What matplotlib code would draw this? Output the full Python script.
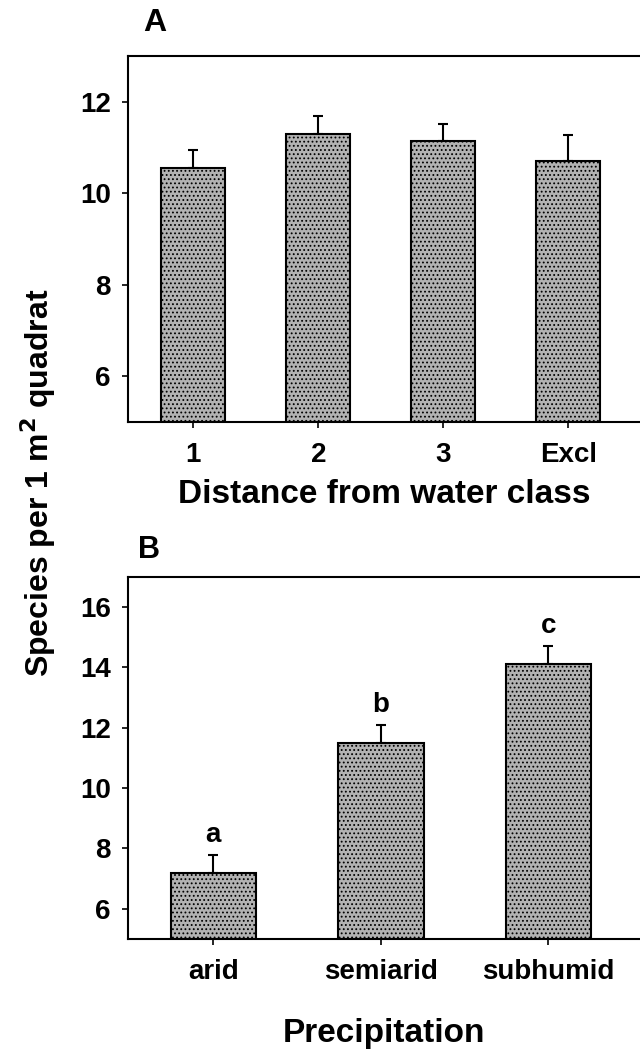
import numpy as np
import matplotlib
matplotlib.use('Agg')
import matplotlib.pyplot as plt

# panel A: distance from water
dist_labels = ['1', '2', '3', 'Excl']
dist_mean = [10.56, 11.30, 11.14, 10.70]
dist_se = [0.38, 0.39, 0.37, 0.58]

# panel B: precipitation zone
precip_labels = ['arid', 'semiarid', 'subhumid']
precip_mean = [7.18, 11.50, 14.12]
precip_se = [0.60, 0.59, 0.59]
precip_groups = ['a', 'b', 'c']

plt.rcParams['font.family'] = ['Liberation Sans', 'DejaVu Sans']
plt.rcParams['font.weight'] = 'bold'
plt.rcParams['hatch.color'] = '#8a8a8a'
plt.rcParams['hatch.linewidth'] = 0.8

bar_color = '#b2b2b2'
lw = 1.5

fig = plt.figure(figsize=(6.4, 10.52), dpi=100)
axA = fig.add_axes([0.2, 0.5989, 0.8, 0.3479])
axB = fig.add_axes([0.2, 0.1074, 0.8, 0.3444])


def draw_panel(ax, labels, mean, se, width):
    x = np.arange(len(labels))
    ax.bar(x, mean, width, color=bar_color, edgecolor='black', linewidth=lw,
           hatch='....', zorder=2)
    ax.errorbar(x, mean, yerr=[np.zeros(len(se)), se], fmt='none', ecolor='black',
                elinewidth=lw, capsize=3.8, capthick=lw, zorder=1)
    ax.set_xticks(x)
    ax.set_xticklabels(labels)
    ax.spines['right'].set_visible(False)
    for s in ['left', 'top', 'bottom']:
        ax.spines[s].set_linewidth(lw)
    ax.tick_params(axis='both', direction='out', length=4.5, width=1.2, labelsize=20)
    ax.tick_params(axis='x', pad=10)
    ax.tick_params(axis='y', pad=8)
    for t in ax.get_xticklabels() + ax.get_yticklabels():
        t.set_fontweight('bold')
    return x


xA = draw_panel(axA, dist_labels, dist_mean, dist_se, 0.51)
axA.set_xlim(-0.522, 3.574)
axA.set_ylim(5, 13)
axA.set_yticks([6, 8, 10, 12])
axA.set_xlabel('Distance from water class', fontsize=24, fontweight='bold', labelpad=8)

xB = draw_panel(axB, precip_labels, precip_mean, precip_se, 0.51)
axB.set_xlim(-0.509, 2.547)
axB.set_ylim(5, 17)
axB.set_yticks([6, 8, 10, 12, 14, 16])
axB.set_xlabel('Precipitation', fontsize=24, fontweight='bold', labelpad=24)

# significance letters above the error bars
for xi, m, e, g in zip(xB, precip_mean, precip_se, precip_groups):
    axB.annotate(g, (xi, m + e), xytext=(0, 5), textcoords='offset points',
                 ha='center', va='bottom', fontsize=20, fontweight='bold')

fig.text(155 / 640, 1 - 23 / 1052, 'A', fontsize=23, fontweight='bold', ha='center', va='center')
fig.text(149 / 640, 1 - 550 / 1052, 'B', fontsize=22, fontweight='bold', ha='center', va='center')
fig.text(38 / 640, 1 - 483 / 1052, r'Species per 1 m$^{\mathbf{2}}$ quadrat', rotation=90,
         fontsize=23, fontweight='bold', ha='center', va='center')

fig.savefig('out.png', dpi=100)
